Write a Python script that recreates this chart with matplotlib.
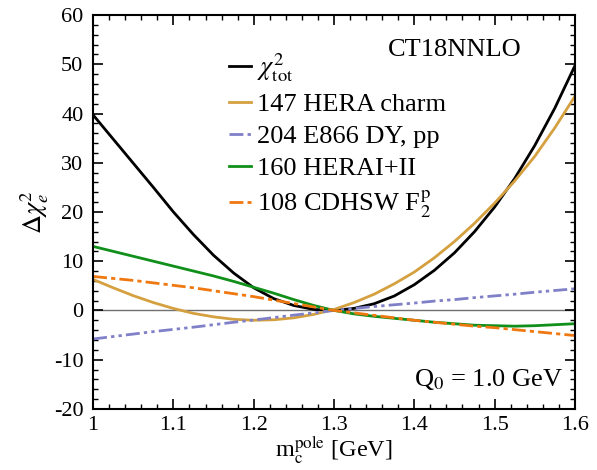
import matplotlib
matplotlib.use("Agg")
import matplotlib.pyplot as plt
from matplotlib.ticker import MultipleLocator

plt.rcParams['font.family'] = ['Liberation Serif', 'DejaVu Serif']
plt.rcParams['mathtext.fontset'] = 'stix'
plt.rcParams['axes.unicode_minus'] = False

mc = [1.000, 1.025, 1.050, 1.075, 1.100, 1.125, 1.150, 1.175, 1.200, 1.225, 1.250, 1.275,
      1.300, 1.325, 1.350, 1.375, 1.400, 1.425, 1.450, 1.475, 1.500, 1.525, 1.550, 1.575, 1.600]
chi_tot = [39.7, 34.8, 29.9, 25.0, 20.0, 15.4, 11.2, 7.6, 4.6, 2.4, 1.0, 0.2,
           0.0, 0.42, 1.36, 2.93, 5.23, 8.15, 11.7, 16.0, 21.0, 26.8, 33.5, 41.1, 49.7]
hera_charm = [6.3, 4.6, 3.0, 1.6, 0.4, -0.6, -1.3, -1.8, -2.0, -1.9, -1.5, -0.8,
              0.2, 1.6, 3.3, 5.4, 7.8, 10.7, 14.0, 17.7, 21.8, 26.3, 31.3, 37.1, 43.5]
e866 = [-5.8, -5.3, -4.8, -4.3, -3.85, -3.4, -2.9, -2.4, -1.95, -1.45, -0.95, -0.5,
        0.0, 0.4, 0.8, 1.15, 1.5, 1.9, 2.2, 2.6, 2.95, 3.3, 3.7, 4.05, 4.4]
herai_ii = [13.0, 12.0, 11.0, 10.0, 9.0, 8.0, 7.0, 5.9, 4.7, 3.5, 2.2, 1.0,
            0.0, -0.7, -1.2, -1.6, -2.0, -2.4, -2.7, -3.0, -3.1, -3.2, -3.1, -2.9, -2.7]
cdhsw = [6.9, 6.5, 6.1, 5.6, 5.1, 4.6, 4.0, 3.4, 2.8, 2.1, 1.4, 0.7,
         0.0, -0.5, -1.0, -1.5, -2.0, -2.4, -2.8, -3.2, -3.5, -3.9, -4.3, -4.7, -5.1]

labels = [r'$\chi^2_{\rm tot}$', '147 HERA charm', '204 E866 DY, pp',
          '160 HERAI+II', r'108 CDHSW F$_2^{\rm p}$']

fig = plt.figure(figsize=(5.97, 4.70), dpi=100)
ax = fig.add_axes([0.156, 0.13, 0.807, 0.838])

ax.axhline(0, color='#707070', lw=1.0, zorder=1)
lw = 2.0
ax.plot(mc, chi_tot, color='black', lw=lw, label=labels[0])
ax.plot(mc, hera_charm, color='#d4a040', lw=lw, label=labels[1])
ax.plot(mc, e866, color='#8080c8', lw=lw, dashes=[5, 1.5, 1.2, 1.5, 1.2, 1.5], label=labels[2])
ax.plot(mc, herai_ii, color='#10901a', lw=lw, label=labels[3])
ax.plot(mc, cdhsw, color='#f07810', lw=lw, dashes=[5, 1.5, 1.5, 1.5], label=labels[4])

ax.set_xlim(1.0, 1.6)
ax.set_ylim(-20, 60)
ax.xaxis.set_major_locator(MultipleLocator(0.1))
ax.xaxis.set_minor_locator(MultipleLocator(0.02))
ax.yaxis.set_major_locator(MultipleLocator(10))
ax.yaxis.set_minor_locator(MultipleLocator(2))
ax.tick_params(which='both', direction='in', top=True, right=True, labelsize=16)
ax.tick_params(which='major', length=7, width=1.2)
ax.tick_params(which='minor', length=3.5, width=1.0)
ax.tick_params(axis='y', which='major', pad=7)
ax.tick_params(axis='x', which='major', pad=5)
ax.set_xticks([1.0, 1.1, 1.2, 1.3, 1.4, 1.5, 1.6])
ax.set_xticklabels(['1', '1.1', '1.2', '1.3', '1.4', '1.5', '1.6'])
for s in ax.spines.values():
    s.set_linewidth(1.5)

ax.set_xlabel(r'm$_{\rm c}^{\rm pole}$ [GeV]', fontsize=17.5, labelpad=0)
ax.set_ylabel(r'$\Delta\chi^2_e$', fontsize=19, labelpad=2)

ax.text(0.89, 0.9125, 'CT18NNLO', transform=ax.transAxes, ha='right', va='center', fontsize=19)
ax.text(0.975, 0.075, r'Q$_0$ = 1.0 GeV', transform=ax.transAxes, ha='right', va='center', fontsize=19)

leg = ax.legend(loc='upper left', bbox_to_anchor=(0.26, 0.935), frameon=False, fontsize=19,
                handlelength=0.85, handletextpad=0.2, labelspacing=0.32, borderaxespad=0)

fig.savefig('out.png', dpi=100)
